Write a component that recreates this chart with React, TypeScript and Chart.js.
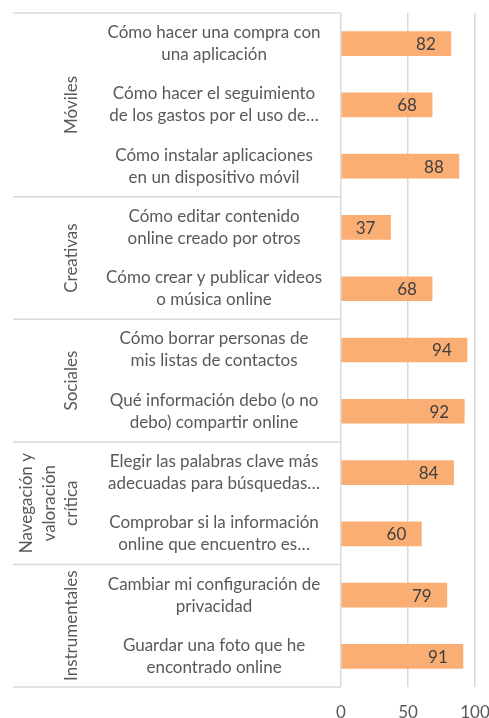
import React, { useEffect, useRef } from "react";
import { Chart, registerables } from "chart.js";

Chart.register(...registerables);

const categories: string[][] = [
  ["Cómo hacer una compra con", "una aplicación"],
  ["Cómo hacer el seguimiento", "de los gastos por el uso de…"],
  ["Cómo instalar aplicaciones", "en un dispositivo móvil"],
  ["Cómo editar contenido", "online creado por otros"],
  ["Cómo crear y publicar videos", "o música online"],
  ["Cómo borrar personas de", "mis listas de contactos"],
  ["Qué información debo (o no", "debo) compartir online"],
  ["Elegir las palabras clave más", "adecuadas para búsquedas…"],
  ["Comprobar si la información", "online que encuentro es…"],
  ["Cambiar mi configuración de", "privacidad"],
  ["Guardar una foto que he", "encontrado online"],
];
const values: number[] = [82, 68, 88, 37, 68, 94, 92, 84, 60, 79, 91];
const groupNames: string[][] = [
  ["Móviles"],
  ["Creativas"],
  ["Sociales"],
  ["Navegación y", "valoración", "crítica"],
  ["Instrumentales"],
];
const groupSizes: number[] = [3, 2, 2, 2, 2];
const xTicks: number[] = [0, 50, 100];

const FONT = "Lato, 'Open Sans', sans-serif";
const FS = 17;
const TEXT = "#595959";
const GRID = "#d9d9d9";
const BAR = "#FBAE74";

const overlayPlugin = {
  id: "overlay",
  afterDraw(chart: any) {
    const ctx = chart.ctx;
    const y = chart.scales.y;
    const area = chart.chartArea;
    const rowH = y.getPixelForValue(1) - y.getPixelForValue(0);
    ctx.save();
    ctx.strokeStyle = GRID;
    ctx.lineWidth = 1.5;
    let start = 0;
    const bounds: number[] = [y.getPixelForValue(0) - rowH / 2];
    groupSizes.forEach((n) => {
      start += n;
      bounds.push(y.getPixelForValue(start - 1) + rowH / 2);
    });
    bounds.forEach((b) => {
      ctx.beginPath();
      ctx.moveTo(13, b);
      ctx.lineTo(area.left, b);
      ctx.stroke();
    });
    ctx.fillStyle = TEXT;
    ctx.font = `${FS}px ${FONT}`;
    ctx.textAlign = "center";
    ctx.textBaseline = "middle";
    groupNames.forEach((lines, gi) => {
      const cy = (bounds[gi] + bounds[gi + 1]) / 2;
      lines.forEach((line, li) => {
        const cx = 72 - 22.5 * (lines.length - 1 - li);
        ctx.save();
        ctx.translate(cx, cy);
        ctx.rotate(-Math.PI / 2);
        ctx.fillText(line, 0, 0);
        ctx.restore();
      });
    });
    const meta = chart.getDatasetMeta(0);
    ctx.fillStyle = "#404040";
    meta.data.forEach((el: any, i: number) => {
      ctx.fillText(String(values[i]), el.x - 25, el.y + 1);
    });
    ctx.restore();
  },
};

export default function App() {
  const ref = useRef<HTMLCanvasElement>(null);
  useEffect(() => {
    if (!ref.current) return;
    const chart = new Chart(ref.current, {
      type: "bar",
      data: {
        labels: categories,
        datasets: [
          {
            data: values,
            backgroundColor: BAR,
            barThickness: 24,
          },
        ],
      },
      options: {
        indexAxis: "y",
        animation: false,
        responsive: false,
        maintainAspectRatio: false,
        layout: { padding: { top: 13, right: 14, left: 0, bottom: 0 } },
        plugins: { legend: { display: false }, tooltip: { enabled: false } },
        scales: {
          x: {
            min: 0,
            max: 100,
            afterBuildTicks: (s: any) => {
              s.ticks = xTicks.map((v) => ({ value: v }));
            },
            afterFit: (s: any) => {
              s.height = 31;
              s.paddingLeft = 0;
              s.paddingRight = 0;
            },
            grid: { color: GRID, lineWidth: 1.5, drawTicks: false },
            border: { display: false },
            ticks: {
              color: TEXT,
              font: { family: FONT, size: FS },
              padding: 15,
              maxRotation: 0,
            },
          },
          y: {
            afterFit: (s: any) => {
              s.width = 341;
              s.paddingTop = 0;
              s.paddingBottom = 0;
            },
            grid: { display: false },
            border: { display: false },
            ticks: {
              color: TEXT,
              font: { family: FONT, size: FS, lineHeight: 22 / FS },
              crossAlign: "center",
              padding: 11,
              autoSkip: false,
            },
          },
        },
      },
      plugins: [overlayPlugin],
    });
    return () => chart.destroy();
  }, []);
  return (
    <div style={{ position: "absolute", left: 0, top: 0, width: 489, height: 718 }}>
      <canvas ref={ref} width={489} height={718} />
    </div>
  );
}
